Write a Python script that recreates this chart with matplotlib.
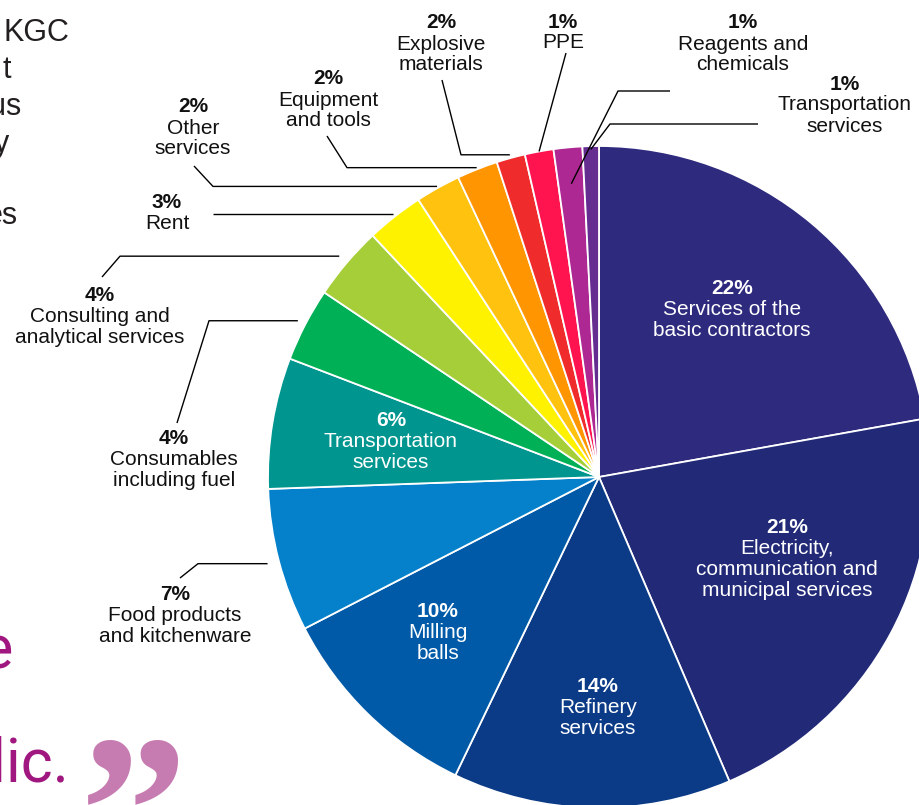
import matplotlib
matplotlib.use('Agg')
import matplotlib.pyplot as plt
import numpy as np

# slice shares, clockwise from 12 o'clock
shares = [22.2, 21.4, 13.6, 10.3, 7.0, 6.4, 3.6, 3.6, 2.8, 2.2, 2.0, 1.4, 1.4, 1.4, 0.8]
pct_labels = ['22%', '21%', '14%', '10%', '7%', '6%', '4%', '4%', '3%', '2%',
              '2%', '2%', '1%', '1%', '1%']
names = [
    'Services of the\nbasic contractors',
    'Electricity,\ncommunication and\nmunicipal services',
    'Refinery\nservices',
    'Milling\nballs',
    'Food products\nand kitchenware',
    'Transportation\nservices',
    'Consumables\nincluding fuel',
    'Consulting and\nanalytical services',
    'Rent',
    'Other\nservices',
    'Equipment\nand tools',
    'Explosive\nmaterials',
    'PPE',
    'Reagents and\nchemicals',
    'Transportation\nservices',
]
colors = ['#2e2a7e', '#222a78', '#0b3a86', '#005aa8', '#0481ca', '#00968f',
          '#00b057', '#a6ce39', '#fff200', '#ffc20e', '#ff9500', '#ef2b2b',
          '#ff1450', '#ae2893', '#662d91']

# text fragments of the page around the chart (cut by the crop)
side_text = ['KGC', 't', 'us', 'y', 'es']
quote_text = ['e', 'public.']

W, H = 919, 805
CX, CY, R = 599, 477, 331
FS = 15
STEP = 21

# label anchors (pixels) and whether the label sits inside the slice
label_pos = [(732, 288), (787, 527), (598, 686), (438, 611), (175, 594),
             (391, 420), (174, 438), (100, 295), (167, 202), (193, 107),
             (328, 79), (441, 23), (563, 22), (743, 23), (845, 84)]
inside = [True, True, True, True, False, True, False, False, False, False,
          False, False, False, False, False]

# leader lines: radius factor of the end point, points from the label side
# (None -> same height as the end point on the slice)
leaders = {
    14: (0.99, [(758, 124), (610, 124)]),
    13: (0.89, [(670, 91), (618, 91)]),
    12: (1.0, [(566, 53)]),
    11: (1.01, [(442, 80), (461, None)]),
    10: (1.005, [(327, 136), (347, None)]),
    9: (1.005, [(194, 166), (213, None)]),
    8: (1.01, [(213, None)]),
    7: (1.03, [(102, 277), (120, None)]),
    6: (1.025, [(177, 423), (209, None)]),
    4: (1.035, [(180, 578), (198, None)]),
}

fig = plt.figure(figsize=(W / 100, H / 100), dpi=100)
ax = fig.add_axes([0, 0, 1, 1])

wedges, _ = ax.pie(shares, colors=colors, startangle=-90, counterclock=True,
                   center=(CX, CY), radius=R, frame=False,
                   wedgeprops=dict(edgecolor='white', linewidth=1.3))
ax.set_xlim(0, W)
ax.set_ylim(H, 0)
ax.set_aspect('auto')
ax.axis('off')

font = 'Liberation Sans'

for i, (x, y) in enumerate(label_pos):
    c = 'white' if inside[i] else '#111111'
    ax.text(x, y, pct_labels[i], ha='center', va='center', fontsize=FS,
            fontweight='bold', color=c, family=font)
    for k, line in enumerate(names[i].split('\n')):
        ax.text(x, y + (k + 1) * STEP, line, ha='center', va='center',
                fontsize=FS, color=c, family=font)

for i, (f, pts) in leaders.items():
    w = wedges[i]
    a = np.radians((w.theta1 + w.theta2) / 2)
    ex, ey = CX + R * f * np.cos(a), CY + R * f * np.sin(a)
    xs = [p[0] for p in pts] + [ex]
    ys = [ey if p[1] is None else p[1] for p in pts] + [ey]
    ax.plot(xs, ys, color='black', lw=1.0, solid_capstyle='butt')

# page text cut off at the left edge
side_xy = [(69, 41), (11, 78), (21, 115), (9, 152), (18, 224)]
for s, (x, y) in zip(side_text, side_xy):
    ax.text(x, y, s, ha='right', va='baseline', fontsize=22, color='#231f20',
            family=font)

quote_xy = [(13, 668), (70, 782)]
for s, (x, y) in zip(quote_text, quote_xy):
    ax.text(x, y, s, ha='right', va='baseline', fontsize=44, color='#a0187f',
            family=['Liberation Sans Narrow', 'Roboto'])

ax.text(80, 733, '\u201d', ha='left', va='top', fontsize=155, color='#c67bb1',
        family='Liberation Serif', fontweight='bold')

fig.savefig('out.png', dpi=100)
